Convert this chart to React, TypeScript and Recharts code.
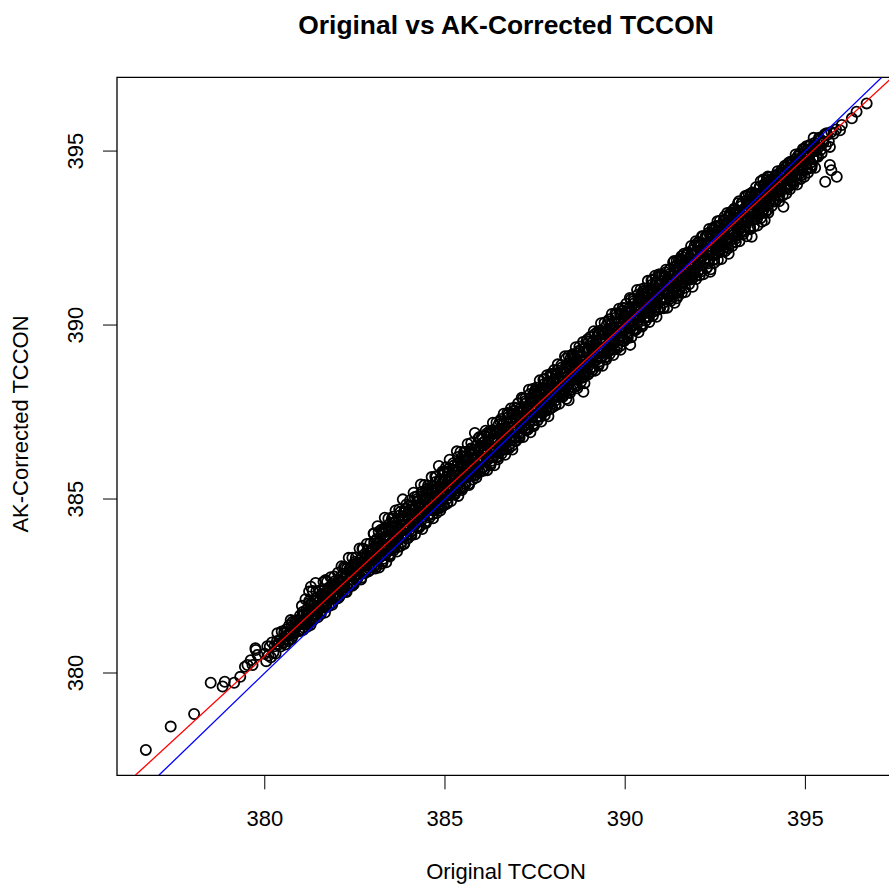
import { ReferenceArea, Scatter, ScatterChart, XAxis, YAxis } from "recharts";

type Pt = [number, number];

const xTicks = [380, 385, 390, 395];
const yTicks = [380, 385, 390, 395];

// fitted line (red): AK = fitIntercept + fitSlope * original; blue is the 1:1 line
const fitIntercept = 17.59;
const fitSlope = 0.955;

const lowerTail: Pt[] = [
  [376.7, 377.79], [377.39, 378.46], [378.04, 378.82], [378.5, 379.72], [378.83, 379.61], [378.89, 379.75],
  [379.15, 379.72], [379.32, 379.89], [379.45, 380.18], [379.52, 380.23], [379.61, 380.37], [379.66, 380.23],
  [379.75, 380.66], [379.8, 380.52], [379.74, 380.71],
];

const upperLeftOutliers: Pt[] = [
  [380.35, 381.14], [380.72, 381.52], [381.23, 382.34], [381.28, 382.48], [381.41, 382.59], [381.69, 382.67],
  [382.2, 383.05], [382.71, 383.58], [383.02, 384.01],
];

const bandLow: Pt[] = [
  [380.0, 380.55], [380.04, 380.34], [380.07, 380.77],
  [380.1, 380.5], [380.14, 380.76], [380.17, 380.45],
  [380.2, 380.88], [380.24, 380.59], [380.27, 380.77],
  [380.3, 380.56], [380.34, 380.92], [380.37, 380.81],
  [380.4, 380.92], [380.44, 380.76], [380.47, 381.19],
  [380.5, 380.88], [380.54, 381.14], [380.57, 380.82],
  [380.6, 381.26], [380.64, 381.06], [380.67, 380.97],
  [380.7, 381.18], [380.74, 380.98], [380.77, 381.47],
  [380.8, 381.14], [380.84, 381.4], [380.87, 381.32],
  [380.9, 381.52], [380.94, 381.22], [380.97, 381.47],
  [381.0, 381.45], [381.03, 381.23], [381.05, 381.75], [381.08, 381.44],
  [381.1, 381.7], [381.13, 381.41], [381.15, 381.65], [381.18, 381.33],
  [381.2, 381.58], [381.23, 382.01], [381.25, 381.49], [381.28, 381.83],
  [381.3, 381.96], [381.33, 381.51], [381.35, 381.77], [381.38, 381.68],
  [381.4, 381.9], [381.43, 382.15], [381.45, 381.67], [381.48, 381.88],
  [381.5, 381.82], [381.53, 382.11], [381.55, 381.69], [381.58, 382.22],
  [381.6, 382.06], [381.63, 381.89], [381.65, 382.4], [381.68, 382.04],
  [381.7, 381.9], [381.73, 382.27], [381.75, 382.15], [381.78, 382.46],
  [381.8, 382.42], [381.83, 382.13], [381.85, 382.01], [381.88, 382.36],
  [381.9, 382.28], [381.93, 382.63], [381.95, 382.2], [381.98, 382.5],
  [382.0, 382.44], [382.03, 382.15], [382.05, 382.65], [382.08, 382.38],
  [382.1, 382.76], [382.13, 382.35], [382.15, 382.63], [382.18, 382.54],
  [382.2, 382.48], [382.23, 382.79], [382.25, 382.35], [382.28, 383.0],
  [382.3, 382.8], [382.33, 382.67], [382.35, 382.99], [382.38, 382.56],
  [382.4, 382.8], [382.43, 382.51], [382.45, 383.03], [382.48, 382.74],
  [382.5, 383.2], [382.53, 382.85], [382.55, 382.69], [382.58, 383.04],
  [382.6, 382.84], [382.63, 383.17], [382.65, 383.03], [382.68, 382.74],
  [382.7, 383.32], [382.73, 382.93], [382.75, 383.19], [382.78, 383.08],
  [382.8, 382.92], [382.83, 383.33], [382.85, 383.53], [382.88, 383.24],
  [382.9, 383.32], [382.93, 382.97], [382.95, 383.53], [382.98, 383.24],
];

const bandMid: Pt[] = [
  [383.0, 383.4], [383.02, 383.05], [383.04, 383.79], [383.06, 383.31], [383.08, 383.65],
  [383.1, 383.05], [383.12, 383.62], [383.14, 383.47], [383.16, 384.06], [383.18, 383.33],
  [383.2, 383.84], [383.22, 383.41], [383.24, 383.66], [383.26, 383.15], [383.28, 384.07],
  [383.3, 383.59], [383.32, 384.16], [383.34, 383.4], [383.36, 383.88], [383.38, 383.6],
  [383.4, 383.85], [383.42, 383.53], [383.44, 384.12], [383.46, 383.41], [383.48, 383.83],
  [383.5, 383.53], [383.52, 384.1], [383.54, 383.79], [383.56, 384.49], [383.58, 383.73],
  [383.6, 383.98], [383.62, 383.62], [383.64, 384.36], [383.66, 383.88], [383.68, 384.23],
  [383.7, 383.62], [383.72, 384.19], [383.74, 384.04], [383.76, 384.63], [383.78, 383.9],
  [383.8, 384.41], [383.82, 383.99], [383.84, 384.24], [383.86, 383.72], [383.88, 384.65],
  [383.9, 384.16], [383.92, 384.73], [383.94, 383.97], [383.96, 384.45], [383.98, 384.17],
  [384.0, 384.43], [384.02, 384.11], [384.04, 384.7], [384.06, 383.99], [384.08, 384.41],
  [384.1, 384.1], [384.12, 384.68], [384.14, 384.36], [384.16, 385.06], [384.18, 384.3],
  [384.2, 384.55], [384.22, 384.2], [384.24, 384.94], [384.26, 384.46], [384.28, 384.8],
  [384.3, 384.2], [384.32, 384.77], [384.34, 384.62], [384.36, 385.21], [384.38, 384.48],
  [384.4, 384.99], [384.42, 384.56], [384.44, 384.81], [384.46, 384.3], [384.48, 385.22],
  [384.5, 384.74], [384.52, 385.31], [384.54, 384.55], [384.56, 385.03], [384.58, 384.75],
  [384.6, 385.0], [384.62, 384.68], [384.64, 385.27], [384.66, 384.56], [384.68, 384.98],
  [384.7, 384.67], [384.72, 385.25], [384.74, 384.94], [384.76, 385.64], [384.78, 384.88],
  [384.8, 385.12], [384.82, 384.77], [384.84, 385.51], [384.86, 385.03], [384.88, 385.37],
  [384.9, 384.76], [384.92, 385.34], [384.94, 385.19], [384.96, 385.78], [384.98, 385.05],
  [385.0, 385.56], [385.02, 385.13], [385.04, 385.38], [385.06, 384.87], [385.08, 385.79],
  [385.1, 385.31], [385.12, 385.88], [385.14, 385.11], [385.16, 385.6], [385.18, 385.32],
  [385.2, 385.57], [385.22, 385.25], [385.24, 385.84], [385.26, 385.13], [385.28, 385.55],
  [385.3, 385.24], [385.32, 385.82], [385.34, 385.51], [385.36, 386.21], [385.38, 385.45],
  [385.4, 385.69], [385.42, 385.34], [385.44, 386.08], [385.46, 385.6], [385.48, 385.94],
  [385.5, 385.34], [385.52, 385.91], [385.54, 385.76], [385.56, 386.35], [385.58, 385.62],
  [385.6, 386.14], [385.62, 385.71], [385.64, 385.96], [385.66, 385.44], [385.68, 386.37],
  [385.7, 385.88], [385.72, 386.45], [385.74, 385.69], [385.76, 386.17], [385.78, 385.89],
  [385.8, 386.15], [385.82, 385.82], [385.84, 386.42], [385.86, 385.7], [385.88, 386.13],
  [385.9, 385.82], [385.92, 386.39], [385.94, 386.08], [385.96, 386.78], [385.98, 386.02],
  [386.0, 386.22], [386.02, 385.87], [386.04, 386.61], [386.06, 386.13], [386.08, 386.47],
  [386.1, 385.86], [386.12, 386.44], [386.14, 386.29], [386.16, 386.88], [386.18, 386.14],
  [386.2, 386.66], [386.22, 386.23], [386.24, 386.48], [386.26, 385.97], [386.28, 386.89],
  [386.3, 386.41], [386.32, 386.98], [386.34, 386.21], [386.36, 386.7], [386.38, 386.42],
  [386.4, 386.67], [386.42, 386.35], [386.44, 386.94], [386.46, 386.23], [386.48, 386.65],
  [386.5, 386.34], [386.52, 386.91], [386.54, 386.6], [386.56, 387.3], [386.58, 386.54],
  [386.6, 386.79], [386.62, 386.43], [386.64, 387.18], [386.66, 386.7], [386.68, 387.04],
  [386.7, 386.43], [386.72, 387.0], [386.74, 386.85], [386.76, 387.44], [386.78, 386.71],
  [386.8, 387.23], [386.82, 386.79], [386.84, 387.05], [386.86, 386.53], [386.88, 387.46],
  [386.9, 386.97], [386.92, 387.54], [386.94, 386.78], [386.96, 387.26], [386.98, 386.98],
  [387.0, 387.24], [387.02, 386.92], [387.04, 387.51], [387.06, 386.8], [387.08, 387.22],
  [387.1, 386.91], [387.12, 387.49], [387.14, 387.18], [387.16, 387.88], [387.18, 387.11],
  [387.2, 387.36], [387.22, 387.01], [387.24, 387.75], [387.26, 387.27], [387.28, 387.61],
  [387.3, 387.0], [387.32, 387.58], [387.34, 387.43], [387.36, 388.02], [387.38, 387.28],
  [387.4, 387.8], [387.42, 387.37], [387.44, 387.62], [387.46, 387.11], [387.48, 388.03],
  [387.5, 387.55], [387.52, 388.12], [387.54, 387.36], [387.56, 387.84], [387.58, 387.56],
  [387.6, 387.82], [387.62, 387.49], [387.64, 388.09], [387.66, 387.37], [387.68, 387.8],
  [387.7, 387.49], [387.72, 388.06], [387.74, 387.75], [387.76, 388.45], [387.78, 387.69],
  [387.8, 387.94], [387.82, 387.58], [387.84, 388.33], [387.86, 387.84], [387.88, 388.19],
  [387.9, 387.58], [387.92, 388.15], [387.94, 388.0], [387.96, 388.59], [387.98, 387.86],
  [388.0, 388.38], [388.02, 387.95], [388.04, 388.2], [388.06, 387.69], [388.08, 388.61],
  [388.1, 388.12], [388.12, 388.7], [388.14, 387.93], [388.16, 388.41], [388.18, 388.13],
  [388.2, 388.39], [388.22, 388.07], [388.24, 388.66], [388.26, 387.95], [388.28, 388.37],
  [388.3, 388.06], [388.32, 388.64], [388.34, 388.32], [388.36, 389.03], [388.38, 388.26],
  [388.4, 388.51], [388.42, 388.16], [388.44, 388.9], [388.46, 388.42], [388.48, 388.76],
  [388.5, 388.15], [388.52, 388.72], [388.54, 388.57], [388.56, 389.16], [388.58, 388.43],
  [388.6, 388.95], [388.62, 388.51], [388.64, 388.77], [388.66, 388.25], [388.68, 389.18],
  [388.7, 388.69], [388.72, 389.26], [388.74, 388.5], [388.76, 388.98], [388.78, 388.7],
  [388.8, 388.96], [388.82, 388.63], [388.84, 389.23], [388.86, 388.51], [388.88, 388.94],
  [388.9, 388.63], [388.92, 389.2], [388.94, 388.89], [388.96, 389.59], [388.98, 388.83],
];

const bandHigh: Pt[] = [
  [389.0, 389.08], [389.02, 388.73], [389.04, 389.47], [389.06, 388.99], [389.08, 389.33],
  [389.1, 388.72], [389.12, 389.3], [389.14, 389.14], [389.16, 389.74], [389.18, 389.0],
  [389.2, 389.52], [389.22, 389.09], [389.24, 389.34], [389.26, 388.83], [389.28, 389.75],
  [389.3, 389.26], [389.32, 389.84], [389.34, 389.07], [389.36, 389.56], [389.38, 389.27],
  [389.4, 389.53], [389.42, 389.21], [389.44, 389.8], [389.46, 389.09], [389.48, 389.51],
  [389.5, 389.21], [389.52, 389.78], [389.54, 389.47], [389.56, 390.17], [389.58, 389.41],
  [389.6, 389.66], [389.62, 389.3], [389.64, 390.05], [389.66, 389.56], [389.68, 389.91],
  [389.7, 389.3], [389.72, 389.87], [389.74, 389.72], [389.76, 390.31], [389.78, 389.58],
  [389.8, 390.1], [389.82, 389.66], [389.84, 389.92], [389.86, 389.4], [389.88, 390.33],
  [389.9, 389.84], [389.92, 390.41], [389.94, 389.65], [389.96, 390.13], [389.98, 389.85],
  [390.0, 390.11], [390.02, 389.78], [390.04, 390.38], [390.06, 389.66], [390.08, 390.08],
  [390.1, 389.78], [390.12, 390.35], [390.14, 390.04], [390.16, 390.74], [390.18, 389.98],
  [390.2, 390.23], [390.22, 389.87], [390.24, 390.62], [390.26, 390.13], [390.28, 390.48],
  [390.3, 389.87], [390.32, 390.44], [390.34, 390.29], [390.36, 390.88], [390.38, 390.15],
  [390.4, 390.67], [390.42, 390.23], [390.44, 390.49], [390.46, 389.97], [390.48, 390.9],
  [390.5, 390.41], [390.52, 390.98], [390.54, 390.22], [390.56, 390.7], [390.58, 390.42],
  [390.6, 390.68], [390.62, 390.35], [390.64, 390.95], [390.66, 390.23], [390.68, 390.65],
  [390.7, 390.35], [390.72, 390.92], [390.74, 390.61], [390.76, 391.31], [390.78, 390.55],
  [390.8, 390.8], [390.82, 390.44], [390.84, 391.19], [390.86, 390.7], [390.88, 391.05],
  [390.9, 390.44], [390.92, 391.01], [390.94, 390.86], [390.96, 391.45], [390.98, 390.72],
  [391.0, 391.19], [391.02, 390.76], [391.04, 391.01], [391.06, 390.5], [391.08, 391.42],
  [391.1, 390.93], [391.12, 391.51], [391.14, 390.74], [391.16, 391.23], [391.18, 390.94],
  [391.2, 391.2], [391.22, 390.88], [391.24, 391.47], [391.26, 390.76], [391.28, 391.18],
  [391.3, 390.87], [391.32, 391.45], [391.34, 391.13], [391.36, 391.84], [391.38, 391.07],
  [391.4, 391.32], [391.42, 390.97], [391.44, 391.71], [391.46, 391.23], [391.48, 391.57],
  [391.5, 390.97], [391.52, 391.54], [391.54, 391.39], [391.56, 391.98], [391.58, 391.25],
  [391.6, 391.77], [391.62, 391.33], [391.64, 391.58], [391.66, 391.07], [391.68, 392.0],
  [391.7, 391.51], [391.72, 392.08], [391.74, 391.32], [391.76, 391.8], [391.78, 391.52],
  [391.8, 391.77], [391.82, 391.45], [391.84, 392.05], [391.86, 391.33], [391.88, 391.75],
  [391.9, 391.45], [391.92, 392.02], [391.94, 391.71], [391.96, 392.41], [391.98, 391.65],
  [392.0, 391.89], [392.02, 391.54], [392.04, 392.29], [392.06, 391.8], [392.08, 392.15],
  [392.1, 391.54], [392.12, 392.11], [392.14, 391.96], [392.16, 392.55], [392.18, 391.82],
  [392.2, 392.34], [392.22, 391.9], [392.24, 392.15], [392.26, 391.64], [392.28, 392.57],
  [392.3, 392.08], [392.32, 392.65], [392.34, 391.89], [392.36, 392.37], [392.38, 392.09],
  [392.4, 392.34], [392.42, 392.02], [392.44, 392.62], [392.46, 391.9], [392.48, 392.32],
  [392.5, 392.02], [392.52, 392.59], [392.54, 392.28], [392.56, 392.98], [392.58, 392.22],
  [392.6, 392.46], [392.62, 392.11], [392.64, 392.86], [392.66, 392.37], [392.68, 392.72],
  [392.7, 392.11], [392.72, 392.68], [392.74, 392.53], [392.76, 393.12], [392.78, 392.39],
  [392.8, 392.91], [392.82, 392.47], [392.84, 392.72], [392.86, 392.21], [392.88, 393.14],
  [392.9, 392.65], [392.92, 393.22], [392.94, 392.46], [392.96, 392.94], [392.98, 392.66],
  [393.0, 392.92], [393.02, 392.6], [393.04, 393.19], [393.06, 392.48], [393.08, 392.9],
  [393.1, 392.59], [393.12, 393.17], [393.14, 392.85], [393.16, 393.56], [393.18, 392.79],
  [393.2, 393.04], [393.22, 392.69], [393.24, 393.43], [393.26, 392.95], [393.28, 393.29],
  [393.3, 392.68], [393.32, 393.25], [393.34, 393.1], [393.36, 393.7], [393.38, 392.96],
  [393.4, 393.48], [393.42, 393.05], [393.44, 393.3], [393.46, 392.79], [393.48, 393.71],
  [393.5, 393.23], [393.52, 393.8], [393.54, 393.04], [393.56, 393.52], [393.58, 393.24],
  [393.6, 393.49], [393.62, 393.17], [393.64, 393.77], [393.66, 393.05], [393.68, 393.47],
  [393.7, 393.17], [393.72, 393.74], [393.74, 393.43], [393.76, 394.13], [393.78, 393.37],
  [393.8, 393.61], [393.82, 393.26], [393.84, 394.0], [393.86, 393.52], [393.88, 393.86],
  [393.9, 393.25], [393.92, 393.82], [393.94, 393.67], [393.96, 394.27], [393.98, 393.53],
  [394.0, 393.9], [394.03, 393.58], [394.05, 394.15], [394.08, 393.81],
  [394.1, 393.54], [394.13, 394.09], [394.15, 393.94], [394.18, 394.31],
  [394.2, 394.22], [394.23, 393.85], [394.25, 393.71], [394.28, 394.14],
  [394.3, 394.05], [394.33, 394.39], [394.35, 393.9], [394.38, 394.31],
  [394.4, 394.28], [394.43, 393.96], [394.45, 394.53], [394.48, 394.19],
  [394.5, 393.93], [394.53, 394.48], [394.55, 394.33], [394.58, 394.69],
  [394.6, 394.61], [394.63, 394.23], [394.65, 394.09], [394.68, 394.52],
  [394.7, 394.44], [394.73, 394.77], [394.75, 394.29], [394.78, 394.7],
  [394.8, 394.66], [394.83, 394.34], [394.85, 394.92], [394.88, 394.57],
  [394.9, 394.31], [394.93, 394.86], [394.95, 394.71], [394.98, 395.07],
  [395.0, 394.99], [395.03, 394.62], [395.05, 394.48], [395.08, 394.91],
  [395.1, 394.82], [395.13, 395.16], [395.15, 394.67], [395.18, 395.08],
  [395.2, 395.05], [395.23, 394.81], [395.25, 395.23], [395.28, 395.0],
  [395.3, 394.84], [395.33, 395.22], [395.35, 395.09], [395.38, 395.38],
  [395.4, 395.31], [395.43, 395.04], [395.45, 394.94], [395.48, 395.29],
  [395.5, 395.24], [395.54, 395.48], [395.57, 395.16],
  [395.6, 395.46], [395.65, 395.28], [395.72, 395.55], [395.78, 395.5], [395.85, 395.62],
];

// second pass over the dense core of the cloud
const coreLow: Pt[] = [
  [380.51, 380.86], [380.55, 381.2], [380.58, 381.07],
  [380.61, 381.18], [380.65, 380.92], [380.68, 381.37],
  [380.71, 381.12], [380.75, 381.33], [380.78, 381.06],
  [380.81, 381.15], [380.85, 381.49], [380.88, 381.36],
  [380.91, 381.46], [380.95, 381.2], [380.98, 381.65],
  [381.01, 381.4], [381.05, 381.65], [381.08, 381.31],
  [381.11, 381.4], [381.15, 381.81], [381.18, 381.65],
  [381.21, 381.77], [381.25, 381.44], [381.28, 381.99],
  [381.31, 381.68], [381.35, 381.93], [381.38, 381.59],
  [381.41, 381.69], [381.45, 382.1], [381.48, 381.94],
  [381.51, 382.05], [381.55, 381.72], [381.58, 382.27],
  [381.61, 381.97], [381.65, 382.22], [381.68, 381.88],
  [381.71, 381.97], [381.75, 382.38], [381.78, 382.22],
  [381.81, 382.34], [381.85, 382.01], [381.88, 382.56],
  [381.91, 382.25], [381.95, 382.5], [381.98, 382.16],
  [382.01, 382.26], [382.05, 382.67], [382.08, 382.51],
  [382.11, 382.63], [382.15, 382.3], [382.18, 382.85],
  [382.21, 382.54], [382.25, 382.79], [382.28, 382.45],
  [382.31, 382.55], [382.35, 382.96], [382.38, 382.8],
  [382.41, 382.91], [382.45, 382.58], [382.48, 383.13],
  [382.51, 382.83], [382.55, 383.08], [382.58, 382.74],
  [382.61, 382.83], [382.65, 383.24], [382.68, 383.08],
  [382.71, 383.2], [382.75, 382.87], [382.78, 383.42],
  [382.81, 383.11], [382.85, 383.36], [382.88, 383.02],
  [382.91, 383.12], [382.95, 383.53], [382.98, 383.37],
  [383.01, 383.26], [383.04, 383.72], [383.06, 383.1], [383.09, 383.59],
  [383.11, 383.85], [383.14, 383.49], [383.16, 383.74], [383.19, 383.32],
  [383.21, 383.38], [383.24, 384.05], [383.26, 383.65], [383.29, 383.28],
  [383.31, 383.9], [383.34, 383.41], [383.36, 384.13], [383.39, 383.68],
  [383.41, 383.77], [383.44, 384.07], [383.46, 383.39], [383.49, 384.32],
  [383.51, 383.74], [383.54, 384.2], [383.56, 383.58], [383.59, 384.07],
  [383.61, 384.33], [383.64, 383.97], [383.66, 384.22], [383.69, 383.8],
  [383.71, 383.86], [383.74, 384.53], [383.76, 384.13], [383.79, 383.76],
  [383.81, 384.38], [383.84, 383.89], [383.86, 384.61], [383.89, 384.16],
  [383.91, 384.25], [383.94, 384.55], [383.96, 383.87], [383.99, 384.8],
  [384.01, 384.22], [384.04, 384.68], [384.06, 384.06], [384.09, 384.55],
  [384.11, 384.81], [384.14, 384.45], [384.16, 384.7], [384.19, 384.28],
  [384.21, 384.34], [384.24, 385.01], [384.26, 384.61], [384.29, 384.24],
  [384.31, 384.86], [384.34, 384.37], [384.36, 385.09], [384.39, 384.64],
  [384.41, 384.73], [384.44, 385.03], [384.46, 384.35], [384.49, 385.28],
  [384.51, 384.7], [384.54, 385.16], [384.56, 384.53], [384.59, 385.03],
  [384.61, 385.28], [384.64, 384.92], [384.66, 385.17], [384.69, 384.75],
  [384.71, 384.82], [384.74, 385.49], [384.76, 385.09], [384.79, 384.71],
  [384.81, 385.33], [384.84, 384.84], [384.86, 385.56], [384.89, 385.11],
  [384.91, 385.21], [384.94, 385.51], [384.96, 384.82], [384.99, 385.76],
  [385.01, 385.17], [385.04, 385.63], [385.06, 385.01], [385.09, 385.5],
  [385.11, 385.76], [385.14, 385.4], [385.16, 385.65], [385.19, 385.23],
  [385.21, 385.29], [385.24, 385.96], [385.26, 385.56], [385.29, 385.19],
  [385.31, 385.81], [385.34, 385.31], [385.36, 386.04], [385.39, 385.59],
  [385.41, 385.68], [385.44, 385.98], [385.46, 385.3], [385.49, 386.23],
  [385.51, 385.65], [385.54, 386.11], [385.56, 385.49], [385.59, 385.98],
  [385.61, 386.24], [385.64, 385.88], [385.66, 386.13], [385.69, 385.71],
  [385.71, 385.77], [385.74, 386.44], [385.76, 386.04], [385.79, 385.67],
  [385.81, 386.29], [385.84, 385.79], [385.86, 386.52], [385.89, 386.07],
  [385.91, 386.16], [385.94, 386.46], [385.96, 385.78], [385.99, 386.71],
];

const coreMid: Pt[] = [
  [386.01, 386.08], [386.04, 386.54], [386.06, 385.92], [386.09, 386.41],
  [386.11, 386.67], [386.14, 386.31], [386.16, 386.56], [386.19, 386.13],
  [386.21, 386.2], [386.24, 386.87], [386.26, 386.47], [386.29, 386.1],
  [386.31, 386.71], [386.34, 386.22], [386.36, 386.94], [386.39, 386.49],
  [386.41, 386.59], [386.44, 386.89], [386.46, 386.2], [386.49, 387.14],
  [386.51, 386.55], [386.54, 387.01], [386.56, 386.39], [386.59, 386.88],
  [386.61, 387.14], [386.64, 386.78], [386.66, 387.03], [386.69, 386.6],
  [386.71, 386.67], [386.74, 387.34], [386.76, 386.94], [386.79, 386.57],
  [386.81, 387.19], [386.84, 386.69], [386.86, 387.42], [386.89, 386.97],
  [386.91, 387.06], [386.94, 387.36], [386.96, 386.68], [386.99, 387.61],
  [387.01, 387.03], [387.04, 387.49], [387.06, 386.87], [387.09, 387.36],
  [387.11, 387.62], [387.14, 387.26], [387.16, 387.51], [387.19, 387.08],
  [387.21, 387.15], [387.24, 387.82], [387.26, 387.42], [387.29, 387.05],
  [387.31, 387.67], [387.34, 387.17], [387.36, 387.9], [387.39, 387.45],
  [387.41, 387.54], [387.44, 387.84], [387.46, 387.16], [387.49, 388.09],
  [387.51, 387.51], [387.54, 387.97], [387.56, 387.35], [387.59, 387.84],
  [387.61, 388.1], [387.64, 387.74], [387.66, 387.99], [387.69, 387.56],
  [387.71, 387.63], [387.74, 388.3], [387.76, 387.9], [387.79, 387.53],
  [387.81, 388.15], [387.84, 387.65], [387.86, 388.38], [387.89, 387.93],
  [387.91, 388.02], [387.94, 388.32], [387.96, 387.64], [387.99, 388.57],
  [388.01, 387.99], [388.04, 388.45], [388.06, 387.83], [388.09, 388.32],
  [388.11, 388.58], [388.14, 388.22], [388.16, 388.47], [388.19, 388.04],
  [388.21, 388.11], [388.24, 388.78], [388.26, 388.38], [388.29, 388.01],
  [388.31, 388.62], [388.34, 388.13], [388.36, 388.85], [388.39, 388.4],
  [388.41, 388.5], [388.44, 388.8], [388.46, 388.11], [388.49, 389.05],
  [388.51, 388.46], [388.54, 388.92], [388.56, 388.3], [388.59, 388.79],
  [388.61, 389.05], [388.64, 388.69], [388.66, 388.94], [388.69, 388.51],
  [388.71, 388.58], [388.74, 389.25], [388.76, 388.85], [388.79, 388.48],
  [388.81, 389.1], [388.84, 388.6], [388.86, 389.33], [388.89, 388.87],
  [388.91, 388.97], [388.94, 389.27], [388.96, 388.59], [388.99, 389.52],
  [389.01, 388.94], [389.04, 389.4], [389.06, 388.78], [389.09, 389.27],
  [389.11, 389.53], [389.14, 389.17], [389.16, 389.42], [389.19, 388.99],
  [389.21, 389.06], [389.24, 389.73], [389.26, 389.33], [389.29, 388.96],
  [389.31, 389.58], [389.34, 389.08], [389.36, 389.81], [389.39, 389.35],
  [389.41, 389.45], [389.44, 389.75], [389.46, 389.07], [389.49, 390.0],
  [389.51, 389.42], [389.54, 389.88], [389.56, 389.26], [389.59, 389.75],
  [389.61, 390.01], [389.64, 389.65], [389.66, 389.9], [389.69, 389.47],
  [389.71, 389.54], [389.74, 390.21], [389.76, 389.81], [389.79, 389.44],
  [389.81, 390.06], [389.84, 389.56], [389.86, 390.29], [389.89, 389.83],
  [389.91, 389.93], [389.94, 390.23], [389.96, 389.55], [389.99, 390.48],
  [390.01, 389.89], [390.04, 390.36], [390.06, 389.73], [390.09, 390.23],
  [390.11, 390.48], [390.14, 390.12], [390.16, 390.37], [390.19, 389.95],
  [390.21, 390.01], [390.24, 390.69], [390.26, 390.29], [390.29, 389.91],
  [390.31, 390.53], [390.34, 390.04], [390.36, 390.76], [390.39, 390.31],
  [390.41, 390.4], [390.44, 390.71], [390.46, 390.02], [390.49, 390.96],
  [390.51, 390.37], [390.54, 390.83], [390.56, 390.21], [390.59, 390.7],
  [390.61, 390.96], [390.64, 390.59], [390.66, 390.85], [390.69, 390.42],
  [390.71, 390.49], [390.74, 391.16], [390.76, 390.76], [390.79, 390.39],
  [390.81, 391.01], [390.84, 390.51], [390.86, 391.24], [390.89, 390.78],
  [390.91, 390.88], [390.94, 391.18], [390.96, 390.5], [390.99, 391.43],
];

const coreHigh: Pt[] = [
  [391.01, 390.8], [391.04, 391.26], [391.06, 390.64], [391.09, 391.13],
  [391.11, 391.39], [391.14, 391.02], [391.16, 391.28], [391.19, 390.85],
  [391.21, 390.92], [391.24, 391.59], [391.26, 391.19], [391.29, 390.82],
  [391.31, 391.44], [391.34, 390.94], [391.36, 391.67], [391.39, 391.21],
  [391.41, 391.31], [391.44, 391.61], [391.46, 390.93], [391.49, 391.86],
  [391.51, 391.28], [391.54, 391.74], [391.56, 391.12], [391.59, 391.61],
  [391.61, 391.87], [391.64, 391.5], [391.66, 391.76], [391.69, 391.33],
  [391.71, 391.4], [391.74, 392.07], [391.76, 391.67], [391.79, 391.3],
  [391.81, 391.92], [391.84, 391.42], [391.86, 392.15], [391.89, 391.69],
  [391.91, 391.79], [391.94, 392.09], [391.96, 391.41], [391.99, 392.34],
  [392.01, 391.75], [392.04, 392.22], [392.06, 391.59], [392.09, 392.08],
  [392.11, 392.34], [392.14, 391.98], [392.16, 392.23], [392.19, 391.81],
  [392.21, 391.87], [392.24, 392.55], [392.26, 392.14], [392.29, 391.77],
  [392.31, 392.39], [392.34, 391.9], [392.36, 392.62], [392.39, 392.17],
  [392.41, 392.26], [392.44, 392.57], [392.46, 391.88], [392.49, 392.82],
  [392.51, 392.23], [392.54, 392.69], [392.56, 392.07], [392.59, 392.56],
  [392.61, 392.82], [392.64, 392.45], [392.66, 392.71], [392.69, 392.28],
  [392.71, 392.35], [392.74, 393.02], [392.76, 392.62], [392.79, 392.25],
  [392.81, 392.87], [392.84, 392.37], [392.86, 393.1], [392.89, 392.64],
  [392.91, 392.74], [392.94, 393.04], [392.96, 392.36], [392.99, 393.29],
  [393.01, 392.71], [393.04, 393.17], [393.06, 392.55], [393.09, 393.04],
  [393.11, 393.3], [393.14, 392.93], [393.16, 393.19], [393.19, 392.76],
  [393.21, 392.83], [393.24, 393.5], [393.26, 393.1], [393.29, 392.73],
  [393.31, 393.35], [393.34, 392.85], [393.36, 393.58], [393.39, 393.12],
  [393.41, 393.22], [393.44, 393.52], [393.46, 392.84], [393.49, 393.77],
  [393.51, 393.19], [393.54, 393.65], [393.56, 393.03], [393.59, 393.52],
  [393.61, 393.78], [393.64, 393.41], [393.66, 393.67], [393.69, 393.24],
  [393.71, 393.31], [393.74, 393.98], [393.76, 393.58], [393.79, 393.21],
  [393.81, 393.82], [393.84, 393.33], [393.86, 394.05], [393.89, 393.6],
  [393.91, 393.69], [393.94, 394.0], [393.96, 393.31], [393.99, 394.25],
  [394.01, 393.58], [394.05, 394.07], [394.08, 393.85],
  [394.11, 394.02], [394.15, 393.63], [394.18, 394.27],
  [394.21, 393.89], [394.25, 394.19], [394.28, 393.74],
  [394.31, 393.87], [394.35, 394.36], [394.38, 394.14],
  [394.41, 394.31], [394.45, 393.92], [394.48, 394.56],
  [394.51, 394.18], [394.55, 394.48], [394.58, 394.03],
  [394.61, 394.15], [394.65, 394.64], [394.68, 394.42],
  [394.71, 394.6], [394.75, 394.21], [394.78, 394.84],
  [394.81, 394.46], [394.85, 394.76], [394.88, 394.31],
  [394.91, 394.44], [394.95, 394.93], [394.98, 394.71],
  [395.01, 394.89], [395.05, 394.5], [395.08, 395.13],
  [395.11, 394.75], [395.15, 395.05], [395.18, 394.6],
  [395.21, 394.77], [395.25, 395.17], [395.28, 395.0],
  [395.31, 395.14], [395.35, 394.84], [395.38, 395.35],
];

// points along the upper and lower fringe of the cloud
const cloudEdges: Pt[] = [
  [381.03, 381.93], [381.07, 381.24], [381.13, 382.12], [381.17, 381.39], [381.23, 382.07], [381.27, 381.38],
  [381.33, 382.36], [381.37, 381.55], [381.43, 382.35], [381.47, 381.6], [381.53, 382.37], [381.57, 381.79],
  [381.63, 382.62], [381.67, 381.74], [381.73, 382.62], [381.77, 381.92], [381.83, 382.75], [381.87, 381.96],
  [381.93, 382.77], [381.97, 382.13], [382.03, 382.88], [382.07, 382.19], [382.13, 383.07], [382.17, 382.34],
  [382.23, 383.02], [382.27, 382.33], [382.33, 383.31], [382.37, 382.5], [382.43, 383.31], [382.47, 382.55],
  [382.53, 383.32], [382.57, 382.74], [382.63, 383.58], [382.67, 382.69], [382.73, 383.57], [382.77, 382.87],
  [382.83, 383.71], [382.87, 382.92], [382.93, 383.72], [382.97, 383.08],
  [383.03, 384.0], [383.07, 383.0], [383.13, 384.22], [383.17, 383.03], [383.23, 384.12], [383.27, 383.21],
  [383.33, 384.46], [383.37, 383.18], [383.43, 384.44], [383.47, 383.35], [383.53, 384.44], [383.57, 383.52],
  [383.63, 384.67], [383.67, 383.49], [383.73, 384.7], [383.77, 383.65], [383.83, 384.99], [383.87, 383.71],
  [383.93, 384.84], [383.97, 383.87], [384.03, 384.96], [384.07, 383.96], [384.13, 385.18], [384.17, 383.99],
  [384.23, 385.08], [384.27, 384.17], [384.33, 385.42], [384.37, 384.14], [384.43, 385.4], [384.47, 384.31],
  [384.53, 385.39], [384.57, 384.47], [384.63, 385.63], [384.67, 384.45], [384.73, 385.65], [384.77, 384.6],
  [384.83, 385.95], [384.87, 384.67], [384.93, 385.79], [384.97, 384.82], [385.03, 385.91], [385.07, 384.91],
  [385.13, 386.13], [385.17, 384.94], [385.23, 386.03], [385.27, 385.12], [385.33, 386.37], [385.37, 385.09],
  [385.43, 386.35], [385.47, 385.26], [385.53, 386.35], [385.57, 385.43], [385.63, 386.58], [385.67, 385.4],
  [385.73, 386.61], [385.77, 385.56], [385.83, 386.9], [385.87, 385.62], [385.93, 386.75], [385.97, 385.78],
  [386.03, 386.8], [386.07, 385.81], [386.13, 386.96], [386.17, 385.83], [386.23, 386.94], [386.27, 386.03],
  [386.33, 387.19], [386.37, 385.97], [386.43, 387.2], [386.47, 386.14], [386.53, 387.24], [386.57, 386.3],
  [386.63, 387.45], [386.67, 386.27], [386.73, 387.47], [386.77, 386.45], [386.83, 387.6], [386.87, 386.42],
  [386.93, 387.63], [386.97, 386.67], [387.03, 387.75], [387.07, 386.76], [387.13, 387.91], [387.17, 386.78],
  [387.23, 387.89], [387.27, 386.98], [387.33, 388.14], [387.37, 386.92], [387.43, 388.16], [387.47, 387.1],
  [387.53, 388.2], [387.57, 387.26], [387.63, 388.41], [387.67, 387.23], [387.73, 388.43], [387.77, 387.41],
  [387.83, 388.56], [387.87, 387.38], [387.93, 388.59], [387.97, 387.63], [388.03, 388.71], [388.07, 387.72],
  [388.13, 388.87], [388.17, 387.74], [388.23, 388.85], [388.27, 387.94], [388.33, 389.1], [388.37, 387.88],
  [388.43, 389.11], [388.47, 388.05], [388.53, 389.15], [388.57, 388.21], [388.63, 389.36], [388.67, 388.18],
  [388.73, 389.38], [388.77, 388.36], [388.83, 389.51], [388.87, 388.33], [388.93, 389.54], [388.97, 388.58],
  [389.03, 389.66], [389.07, 388.67], [389.13, 389.82], [389.17, 388.69], [389.23, 389.8], [389.27, 388.89],
  [389.33, 390.05], [389.37, 388.83], [389.43, 390.07], [389.47, 389.01], [389.53, 390.11], [389.57, 389.17],
  [389.63, 390.32], [389.67, 389.14], [389.73, 390.34], [389.77, 389.32], [389.83, 390.47], [389.87, 389.29],
  [389.93, 390.5], [389.97, 389.54], [390.03, 390.61], [390.07, 389.62], [390.13, 390.78], [390.17, 389.65],
  [390.23, 390.75], [390.27, 389.84], [390.33, 391.01], [390.37, 389.79], [390.43, 391.02], [390.47, 389.96],
  [390.53, 391.06], [390.57, 390.12], [390.63, 391.27], [390.67, 390.09], [390.73, 391.29], [390.77, 390.27],
  [390.83, 391.42], [390.87, 390.24], [390.93, 391.45], [390.97, 390.49],
  [391.03, 391.44], [391.07, 390.48], [391.13, 391.59], [391.17, 390.5], [391.23, 391.59], [391.27, 390.7],
  [391.33, 391.8], [391.37, 390.64], [391.43, 391.84], [391.47, 390.84], [391.53, 391.9], [391.57, 390.92],
  [391.63, 392.05], [391.67, 390.95], [391.73, 392.05], [391.77, 391.17], [391.83, 392.27], [391.87, 391.1],
  [391.93, 392.29], [391.97, 391.32], [392.03, 392.39], [392.07, 391.43], [392.13, 392.55], [392.17, 391.46],
  [392.23, 392.54], [392.27, 391.65], [392.33, 392.76], [392.37, 391.6], [392.43, 392.79], [392.47, 391.79],
  [392.53, 392.85], [392.57, 391.87], [392.63, 393.0], [392.67, 391.9], [392.73, 393.0], [392.77, 392.12],
  [392.83, 393.22], [392.87, 392.05], [392.93, 393.24], [392.97, 392.27], [393.03, 393.35], [393.07, 392.39],
  [393.13, 393.5], [393.17, 392.41], [393.23, 393.5], [393.27, 392.61], [393.33, 393.71], [393.37, 392.55],
  [393.43, 393.75], [393.47, 392.75], [393.53, 393.81], [393.57, 392.83], [393.63, 393.96], [393.67, 392.86],
  [393.73, 393.96], [393.77, 393.08], [393.83, 394.18], [393.87, 393.01], [393.93, 394.2], [393.97, 393.23],
  [394.03, 394.18], [394.07, 393.42], [394.13, 394.22], [394.17, 393.56], [394.23, 394.42], [394.27, 393.56],
  [394.33, 394.44], [394.37, 393.72], [394.43, 394.58], [394.47, 393.78], [394.53, 394.66], [394.57, 393.9],
  [394.63, 394.7], [394.67, 394.04], [394.73, 394.9], [394.77, 394.04], [394.83, 394.92], [394.87, 394.2],
  [394.93, 395.06], [394.97, 394.26], [395.03, 395.14], [395.07, 394.38], [395.13, 395.18], [395.17, 394.52],
  [395.23, 395.38], [395.27, 394.52],
];

const lowerRightOutliers: Pt[] = [
  [388.43, 387.84], [388.84, 388.08], [390.14, 389.43], [391.43, 390.77], [392.36, 391.53], [393.51, 392.54],
  [393.79, 392.97], [394.39, 393.4], [394.62, 394.12], [395.13, 394.53], [395.55, 394.12], [395.68, 394.6],
  [395.72, 394.45], [395.87, 394.26],
];

const topTail: Pt[] = [
  [395.59, 395.51], [395.68, 395.12], [395.96, 395.6], [396.01, 395.75], [396.29, 395.94], [396.42, 396.13],
  [396.7, 396.37],
];

const points = [
  ...lowerTail,
  ...upperLeftOutliers,
  ...bandLow,
  ...bandMid,
  ...bandHigh,
  ...coreLow,
  ...coreMid,
  ...coreHigh,
  ...cloudEdges,
  ...lowerRightOutliers,
  ...topTail,
].map(([x, y]) => ({ x, y }));

const W = 889;
const H = 884;
const PLOT_LEFT = 117;
const PLOT_TOP = 77.3;
const PLOT_BOTTOM = 775.3;
const xDomain: [number, number] = [375.9, 397.5];
const yDomain: [number, number] = [377.06, 397.12];
const FONT = "'Liberation Sans', Arial, Helvetica, sans-serif";
const plotCenterX = 506;

// line end points where each line meets the bottom and top of the box
const fitLine = yDomain.map((y) => ({ x: (y - fitIntercept) / fitSlope, y }));
const oneToOne = yDomain.map((y) => ({ x: y, y }));

const Ring = (props: any) => {
  if (props.cx == null || props.cy == null) return <g />;
  return <circle cx={props.cx} cy={props.cy} r={5.1} fill="none" stroke="#000" strokeWidth={1.8} />;
};

const NoDot = () => <g />;

const XTick = (props: any) => (
  <text x={props.x} y={PLOT_BOTTOM + 50.5} textAnchor="middle" fontSize={22} fontFamily={FONT} fill="#000">
    {props.payload.value}
  </text>
);

const YTick = (props: any) => (
  <text
    x={83}
    y={props.y}
    transform={`rotate(-90 83 ${props.y})`}
    textAnchor="middle"
    fontSize={22}
    fontFamily={FONT}
    fill="#000"
  >
    {props.payload.value}
  </text>
);

export default function App() {
  return (
    <div style={{ position: "fixed", left: 0, top: 0, width: W, height: H, overflow: "hidden", background: "#fff" }}>
      <ScatterChart width={900} height={H} margin={{ top: PLOT_TOP, right: 900 - 895.5, bottom: 0, left: 0 }}>
        <XAxis
          type="number"
          dataKey="x"
          domain={xDomain}
          ticks={xTicks}
          allowDataOverflow
          axisLine={false}
          tickSize={14}
          tickLine={{ stroke: "#000", strokeWidth: 1 }}
          tick={<XTick />}
          height={H - PLOT_BOTTOM}
          interval={0}
        />
        <YAxis
          type="number"
          dataKey="y"
          domain={yDomain}
          ticks={yTicks}
          allowDataOverflow
          axisLine={false}
          tickSize={14}
          tickLine={{ stroke: "#000", strokeWidth: 1 }}
          tick={<YTick />}
          width={PLOT_LEFT}
          interval={0}
        />
        <ReferenceArea
          x1={xDomain[0]}
          x2={xDomain[1]}
          y1={yDomain[0]}
          y2={yDomain[1]}
          fill="none"
          fillOpacity={0}
          stroke="#000"
          strokeWidth={1.3}
        />
        <Scatter data={points} shape={<Ring />} isAnimationActive={false} />
        <Scatter data={fitLine} line={{ stroke: "#ff0000", strokeWidth: 1.3 }} shape={<NoDot />} isAnimationActive={false} />
        <Scatter data={oneToOne} line={{ stroke: "#0000ff", strokeWidth: 1.3 }} shape={<NoDot />} isAnimationActive={false} />
      </ScatterChart>
      <svg width={W} height={H} style={{ position: "absolute", left: 0, top: 0, pointerEvents: "none" }}>
        <text x={plotCenterX} y={34} textAnchor="middle" fontSize={26.4} fontWeight="bold" fontFamily={FONT} fill="#000">
          Original vs AK-Corrected TCCON
        </text>
        <text x={plotCenterX} y={879} textAnchor="middle" fontSize={22} fontFamily={FONT} fill="#000">
          Original TCCON
        </text>
        <text x={28} y={424} transform="rotate(-90 28 424)" textAnchor="middle" fontSize={22} fontFamily={FONT} fill="#000">
          AK-Corrected TCCON
        </text>
      </svg>
    </div>
  );
}
